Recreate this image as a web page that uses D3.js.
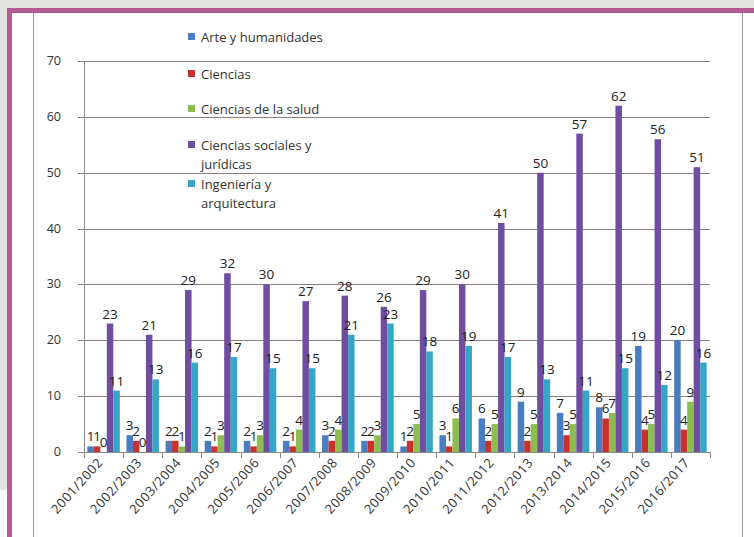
<!DOCTYPE html>
<html>
<head>
<meta charset="utf-8">
<script src="https://cdn.jsdelivr.net/npm/d3@7"></script>
<style>
  body { margin:0; padding:0; background:#e3e3e1; }
  svg { display:block; }
</style>
</head>
<body>
<div id="content"></div>
<script>
var years = ["2001/2002","2002/2003","2003/2004","2004/2005","2005/2006","2006/2007",
             "2007/2008","2008/2009","2009/2010","2010/2011","2011/2012","2012/2013",
             "2013/2014","2014/2015","2015/2016","2016/2017"];
var seriesNames = ["Arte y humanidades","Ciencias","Ciencias de la salud",
                   "Ciencias sociales y jurídicas","Ingeniería y arquitectura"];
var arte      = [1,3,2,2,2,2,3,2,1,3,6,9,7,8,19,20];
var ciencias  = [1,2,2,1,1,1,2,2,2,1,2,2,3,6,4,4];
var salud     = [0,0,1,3,3,4,4,3,5,6,5,5,5,7,5,9];
var sociales  = [23,21,29,32,30,27,28,26,29,30,41,50,57,62,56,51];
var ingenieria= [11,13,16,17,15,15,21,23,18,19,17,13,11,15,12,16];
var yTicks = [0,10,20,30,40,50,60,70];

var seriesValues = [arte, ciencias, salud, sociales, ingenieria];
var colors = ["#4a7cc2","#c9302e","#8dbd4e","#6f4ea2","#35a6c6"];
var legendLines = [["Arte y humanidades"],["Ciencias"],["Ciencias de la salud"],
                   ["Ciencias sociales y","jurídicas"],["Ingeniería y","arquitectura"]];

var w = 754, h = 537;
var svg = d3.select("#content").append("svg")
            .attr("width", w)
            .attr("height", h);

// page background and frame
svg.append("rect").attr("x",0).attr("y",0).attr("width",w).attr("height",h).attr("fill","#e3e3e1");
svg.append("rect").attr("x",0).attr("y",490).attr("width",40).attr("height",60).attr("fill","#fff");
svg.append("rect").attr("x",7).attr("y",8).attr("width",800).attr("height",600).attr("fill","#b45a92");
svg.append("rect").attr("x",12).attr("y",13).attr("width",800).attr("height",600).attr("fill","#fff");
svg.append("line").attr("x1",33.5).attr("x2",33.5).attr("y1",13).attr("y2",h)
   .attr("stroke","#9a9a9a").attr("stroke-width",1);
svg.append("line").attr("x1",742.5).attr("x2",742.5).attr("y1",13).attr("y2",h)
   .attr("stroke","#9a9a9a").attr("stroke-width",1);

var x0 = d3.scaleBand().domain(years).range([84, 710]).paddingInner(0.17).paddingOuter(0.085);
var x1 = d3.scaleBand().domain(d3.range(seriesNames.length)).range([0, x0.bandwidth()]);
var y = d3.scaleLinear().domain([0, 70]).range([452, 61]);

// grid lines
svg.append("g").selectAll("line").data(yTicks).enter().append("line")
   .attr("x1", 78).attr("x2", 710)
   .attr("y1", function(d){ return Math.round(y(d))+0.5; })
   .attr("y2", function(d){ return Math.round(y(d))+0.5; })
   .attr("stroke", function(d){ return d===0 ? "#8a8a8a" : "#8c7f7f"; })
   .attr("stroke-width", 1);

// y axis line
svg.append("line").attr("x1",84.5).attr("x2",84.5).attr("y1",y(70)).attr("y2",y(0))
   .attr("stroke","#8a8a8a");

// y labels
svg.append("g").selectAll("text").data(yTicks).enter().append("text")
   .attr("x", 61).attr("y", function(d){ return y(d)+4; })
   .attr("text-anchor","end")
   .attr("font-family","Open Sans")
   .attr("font-size","12.5px")
   .attr("fill","#333")
   .text(function(d){ return d; });

// x ticks at category boundaries
var bounds = d3.range(years.length+1).map(function(i){ return 84 + i*(626/years.length); });
svg.append("g").selectAll("line").data(bounds).enter().append("line")
   .attr("x1", function(d){ return Math.round(d)+0.5; })
   .attr("x2", function(d){ return Math.round(d)+0.5; })
   .attr("y1", 452).attr("y2", 458)
   .attr("stroke","#8a8a8a");

// x labels
svg.append("g").selectAll("text").data(years).enter().append("text")
   .attr("transform", function(d){
       return "translate(" + (x0(d)+x0.bandwidth()/2) + ",463) rotate(-48)";
   })
   .attr("text-anchor","end")
   .attr("font-family","Open Sans")
   .attr("font-size","13px")
   .attr("letter-spacing","0.6px")
   .attr("fill","#333")
   .text(function(d){ return d; });

// bars
var groups = svg.append("g").selectAll("g").data(years).enter().append("g")
   .attr("transform", function(d){ return "translate(" + x0(d) + ",0)"; });

groups.selectAll("rect")
   .data(function(d, i){ return seriesValues.map(function(s, k){ return {k:k, v:s[i]}; }); })
   .enter().append("rect")
   .attr("x", function(d){ return x1(d.k); })
   .attr("width", x1.bandwidth())
   .attr("y", function(d){ return y(d.v); })
   .attr("height", function(d){ return y(0) - y(d.v); })
   .attr("fill", function(d){ return colors[d.k]; });

groups.selectAll("text")
   .data(function(d, i){ return seriesValues.map(function(s, k){ return {k:k, v:s[i]}; }); })
   .enter().append("text")
   .attr("x", function(d){ return x1(d.k) + x1.bandwidth()/2; })
   .attr("y", function(d){ return y(d.v) - 5; })
   .attr("text-anchor","middle")
   .attr("font-family","Open Sans")
   .attr("font-size","13.5px")
   .attr("fill","#222")
   .text(function(d){ return d.v; });

// legend
var legendY = [42, 79, 114, 150, 189];
var legend = svg.append("g").selectAll("g").data(legendLines).enter().append("g")
   .attr("transform", function(d, i){ return "translate(188," + legendY[i] + ")"; });
legend.append("rect")
   .attr("x", 0).attr("y", -9).attr("width", 7).attr("height", 7)
   .attr("fill", function(d, i){ return colors[i]; });
legend.append("text")
   .attr("x", 13).attr("y", 0)
   .attr("font-family","Open Sans")
   .attr("font-size","13px")
   .attr("fill","#333")
   .selectAll("tspan").data(function(d){ return d; }).enter().append("tspan")
   .attr("x", 13)
   .attr("dy", function(d, j){ return j === 0 ? 0 : 19; })
   .text(function(d){ return d; });
</script>
</body>
</html>
